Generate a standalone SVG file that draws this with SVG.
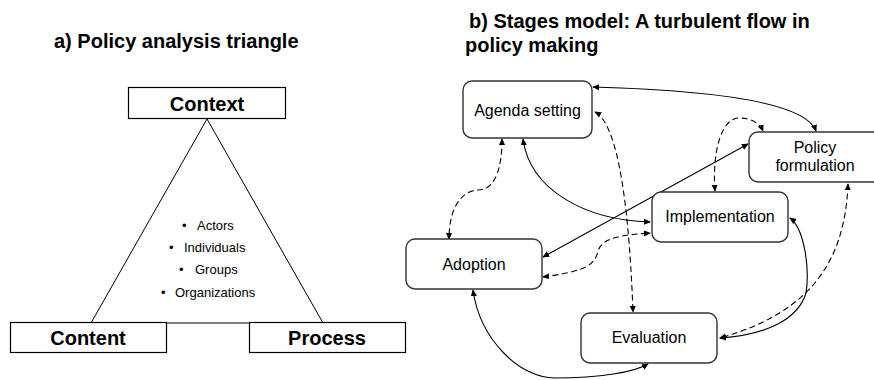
<svg xmlns="http://www.w3.org/2000/svg" width="874" height="380" viewBox="0 0 874 380">
<defs>
<style>
.t{font-family:"Liberation Sans",Arial,sans-serif;fill:#000}
.title{font-size:20px;font-weight:bold}
.big{font-size:20px;font-weight:bold;text-anchor:middle}
.lbl{font-size:16px;text-anchor:middle}
.bul{font-size:13px}
.box{fill:#fff;stroke:#000;stroke-width:1.2}
.rbox{fill:#fff;stroke:#333;stroke-width:1.4}
.c{fill:none;stroke:#000;stroke-width:1.1;marker-start:url(#ah);marker-end:url(#ah)}
.d{stroke-dasharray:6 3.5}
</style>
<marker id="ah" viewBox="0 0 8 8" refX="7" refY="4" markerWidth="7" markerHeight="7" markerUnits="userSpaceOnUse" orient="auto-start-reverse">
<path d="M0,0.5 L8,4 L0,7.5 z" fill="#000"/>
</marker>
</defs>
<rect width="874" height="380" fill="#fff"/>

<g id="title-a"><text class="t title" x="54" y="48">a) Policy analysis triangle</text></g>
<g id="title-b"><text class="t title" x="469" y="28">b) Stages model: A turbulent flow in</text><text class="t title" x="465" y="52">policy making</text></g>

<g id="triangle">
<polygon points="207,119 91,323 323,323" fill="none" stroke="#000" stroke-width="1"/>
<text class="t bul" x="182" y="230">•</text><text class="t bul" x="197" y="230">Actors</text>
<text class="t bul" x="169" y="252">•</text><text class="t bul" x="184" y="252">Individuals</text>
<text class="t bul" x="179" y="274">•</text><text class="t bul" x="195" y="274">Groups</text>
<text class="t bul" x="161" y="297">•</text><text class="t bul" x="175" y="297">Organizations</text>
</g>
<g id="context"><rect class="box" x="128.5" y="87.5" width="157" height="31"/><text class="t big" x="207" y="111">Context</text></g>
<g id="content"><rect class="box" x="10.5" y="322.5" width="156" height="30"/><text class="t big" x="88" y="345">Content</text></g>
<g id="process"><rect class="box" x="249.5" y="322.5" width="156" height="30"/><text class="t big" x="327" y="345">Process</text></g>

<g id="connectors">
<path class="c" d="M593,87 C700,90 805,100 816,131"/>
<path class="c d" d="M595,112 C614,122 628,180 633,312"/>
<path class="c d" d="M502,139 C502,175 492,190 478,190 C460,191 449,210 449,239"/>
<path class="c" d="M523,139 C530,190 585,220 650,222"/>
<path class="c" d="M543,257 L748,144"/>
<path class="c d" d="M543,277 C588,271 595,264 598,251 C602,238 620,235 650,233"/>
<path class="c d" d="M715,191 C712,150 722,118 739,118 C752,118 760,124 763,131"/>
<path class="c d" d="M848,184 C845,260 812,312 720,338"/>
<path class="c" d="M790,218 C804,228 810,268 806,293 C798,320 765,335 720,338"/>
<path class="c" d="M473,290 C480,340 520,378 555,378 C600,378 635,372 648,364"/>
</g>

<g id="agenda"><rect class="rbox" x="463" y="81" width="129" height="57" rx="9"/><text class="t lbl" x="527.5" y="116">Agenda setting</text></g>
<g id="policy"><rect class="rbox" x="749" y="132" width="136" height="50" rx="9"/><text class="t lbl" x="815" y="153">Policy</text><text class="t lbl" x="815" y="171">formulation</text></g>
<g id="implementation"><rect class="rbox" x="652" y="192" width="136" height="50" rx="9"/><text class="t lbl" x="720" y="222">Implementation</text></g>
<g id="adoption"><rect class="rbox" x="406" y="239" width="136" height="50" rx="9"/><text class="t lbl" x="474" y="270">Adoption</text></g>
<g id="evaluation"><rect class="rbox" x="581" y="313" width="136" height="50" rx="9"/><text class="t lbl" x="649" y="343">Evaluation</text></g>
</svg>
